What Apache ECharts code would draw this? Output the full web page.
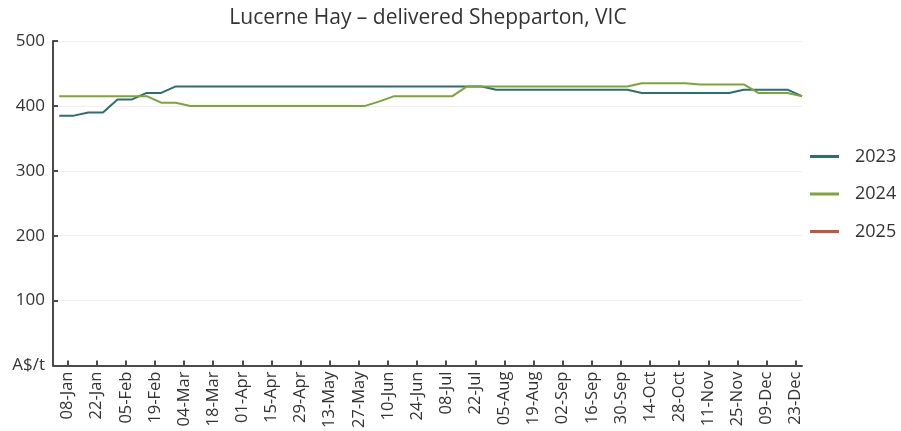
<!DOCTYPE html>
<html>
<head>
<meta charset="utf-8">
<title>Lucerne Hay – delivered Shepparton, VIC</title>
<script src="https://cdn.jsdelivr.net/npm/echarts@6/dist/echarts.min.js"></script>
<style>
  html, body { margin: 0; padding: 0; background: #ffffff; }
  #chart { width: 901px; height: 431px; }
</style>
</head>
<body>
<div id="chart"></div>
<script>
// Weekly observation dates (day/month, plotted on a common calendar year)
const pointDates = [
  '04-Jan', '11-Jan', '18-Jan', '25-Jan', '01-Feb', '08-Feb', '15-Feb', '22-Feb', '29-Feb',
  '07-Mar', '14-Mar', '21-Mar', '28-Mar', '04-Apr', '11-Apr', '18-Apr', '25-Apr',
  '02-May', '09-May', '16-May', '23-May', '30-May', '06-Jun', '13-Jun', '20-Jun', '27-Jun',
  '04-Jul', '11-Jul', '18-Jul', '25-Jul', '01-Aug', '08-Aug', '15-Aug', '22-Aug', '29-Aug',
  '05-Sep', '12-Sep', '19-Sep', '26-Sep', '03-Oct', '10-Oct', '17-Oct', '24-Oct', '31-Oct',
  '07-Nov', '14-Nov', '21-Nov', '28-Nov', '05-Dec', '12-Dec', '19-Dec', '26-Dec'
];

// Fortnightly tick labels along the x axis
const tickLabels = [
  '08-Jan', '22-Jan', '05-Feb', '19-Feb', '04-Mar', '18-Mar', '01-Apr', '15-Apr', '29-Apr',
  '13-May', '27-May', '10-Jun', '24-Jun', '08-Jul', '22-Jul', '05-Aug', '19-Aug', '02-Sep',
  '16-Sep', '30-Sep', '14-Oct', '28-Oct', '11-Nov', '25-Nov', '09-Dec', '23-Dec'
];

// Price, A$/t
const prices2023 = [
  385, 385, 390, 390, 410, 410, 420, 420,
  430, 430, 430, 430, 430, 430, 430, 430, 430, 430, 430, 430, 430, 430, 430, 430, 430, 430, 430, 430, 430, 430,
  425, 425, 425, 425, 425, 425, 425, 425, 425, 425,
  420, 420, 420, 420, 420, 420, 420,
  425, 425, 425, 425,
  415
];
const prices2024 = [
  415, 415, 415, 415, 415, 415, 415,
  405, 405,
  400, 400, 400, 400, 400, 400, 400, 400, 400, 400, 400, 400, 400,
  407,
  415, 415, 415, 415, 415,
  430, 430, 430, 430, 430, 430, 430, 430, 430, 430, 430, 430,
  435, 435, 435, 435,
  433, 433, 433, 433,
  420, 420, 420,
  415
];
const prices2025 = [];

const yTicks = [0, 100, 200, 300, 400, 500];

const MONTHS = ['Jan', 'Feb', 'Mar', 'Apr', 'May', 'Jun', 'Jul', 'Aug', 'Sep', 'Oct', 'Nov', 'Dec'];
const MONTH_LEN = [31, 29, 31, 30, 31, 30, 31, 31, 30, 31, 30, 31];
const MONTH_START = MONTH_LEN.reduce((acc, n, i) => { acc.push(acc[i] + n); return acc; }, [0]);

// 'DD-Mon' -> day of year (0 = 1 January)
function dayOfYear(label) {
  const [dd, mon] = label.split('-');
  return MONTH_START[MONTHS.indexOf(mon)] + Number(dd) - 1;
}
function labelOfDay(day) {
  let m = 0;
  while (m < 11 && day >= MONTH_START[m + 1]) m++;
  const d = Math.round(day - MONTH_START[m]) + 1;
  return String(d).padStart(2, '0') + '-' + MONTHS[m];
}

const tickDays = tickLabels.map(dayOfYear);
const pointDays = pointDates.map(dayOfYear);
const pairs = values => values.map((v, i) => [pointDays[i], v]);

const FONT = 'Open Sans';
const AXIS_COLOR = '#4a4a4a';
const TEXT_COLOR = '#333333';

const chart = echarts.init(document.getElementById('chart'), null, { renderer: 'canvas' });

chart.setOption({
  animation: false,
  backgroundColor: '#ffffff',
  textStyle: { fontFamily: FONT },
  title: {
    text: 'Lucerne Hay – delivered Shepparton, VIC',
    left: 423,
    top: 3,
    textAlign: 'center',
    textStyle: { fontFamily: FONT, fontSize: 21, fontWeight: 'normal', color: TEXT_COLOR }
  },
  legend: {
    orient: 'vertical',
    left: 805,
    top: 139,
    itemWidth: 29,
    itemHeight: 3,
    itemGap: 12.5,
    icon: 'rect',
    textStyle: { fontFamily: FONT, fontSize: 18, color: TEXT_COLOR, padding: [0, 0, 0, 11], lineHeight: 25 },
    data: ['2023', '2024', '2025']
  },
  grid: { left: 53, right: 99, top: 41, bottom: 65, containLabel: false },
  xAxis: {
    type: 'value',
    min: 0,
    max: pointDays[pointDays.length - 1],
    splitLine: { show: false },
    axisLine: { show: true, lineStyle: { color: AXIS_COLOR, width: 2 } },
    axisTick: {
      show: true, inside: true, length: 5,
      customValues: tickDays,
      lineStyle: { color: AXIS_COLOR, width: 2 }
    },
    axisLabel: {
      customValues: tickDays,
      rotate: 90,
      margin: 6,
      fontFamily: FONT,
      fontSize: 16.5,
      color: TEXT_COLOR,
      formatter: v => labelOfDay(v)
    }
  },
  yAxis: {
    type: 'value',
    min: yTicks[0],
    max: yTicks[yTicks.length - 1],
    interval: 100,
    axisLine: { show: true, lineStyle: { color: AXIS_COLOR, width: 2 } },
    axisTick: { show: true, inside: true, length: 5, lineStyle: { color: AXIS_COLOR, width: 2 } },
    splitLine: { show: true, lineStyle: { color: '#efefef', width: 1 } },
    axisLabel: {
      margin: 8,
      fontFamily: FONT,
      fontSize: 17,
      color: TEXT_COLOR,
      formatter: v => (v === 0 ? 'A$/t' : String(v))
    }
  },
  series: [
    {
      name: '2023', type: 'line', data: pairs(prices2023),
      showSymbol: false, symbol: 'none',
      lineStyle: { color: '#2c6d76', width: 2 }, itemStyle: { color: '#2c6d76' }
    },
    {
      name: '2024', type: 'line', data: pairs(prices2024),
      showSymbol: false, symbol: 'none',
      lineStyle: { color: '#7aa636', width: 2 }, itemStyle: { color: '#7aa636' }
    },
    {
      name: '2025', type: 'line', data: pairs(prices2025),
      showSymbol: false, symbol: 'none',
      lineStyle: { color: '#c0583e', width: 2 }, itemStyle: { color: '#c0583e' }
    }
  ]
});
</script>
</body>
</html>
